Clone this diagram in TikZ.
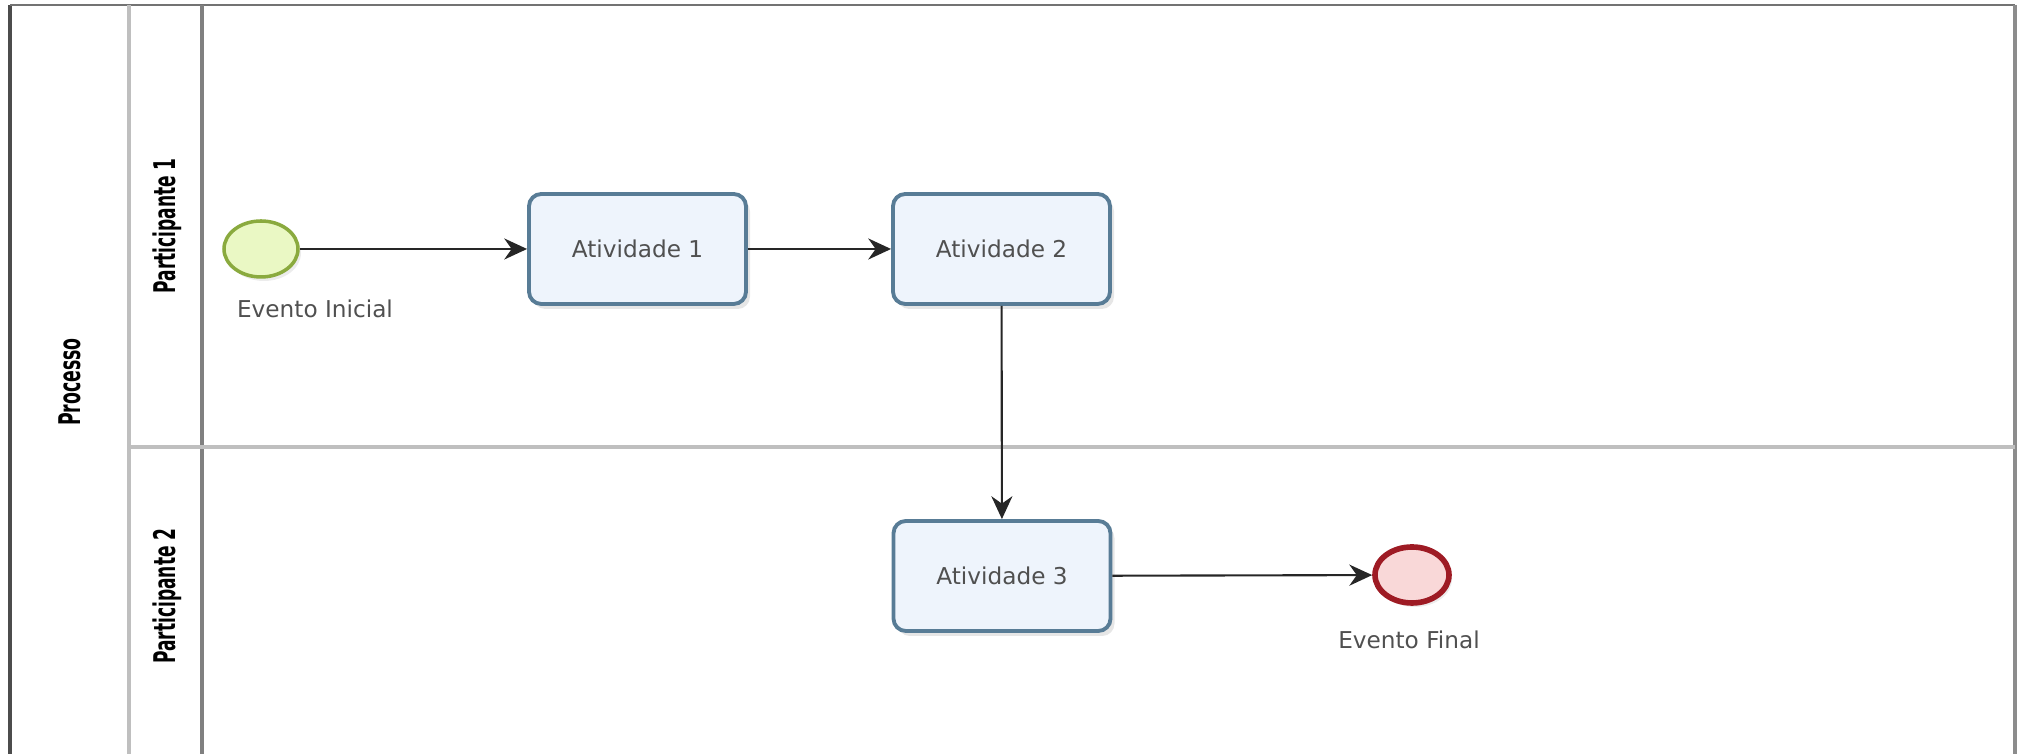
\documentclass[tikz,border=0pt]{standalone}
\usepackage{fontspec}
\setmainfont{DejaVu Sans}
\usepackage{xcolor}
\usepackage{tikz}
\usetikzlibrary{arrows.meta}
\usetikzlibrary{shapes,shadows}
\usetikzlibrary{positioning}

\definecolor{atvborda}{HTML}{587C96}
\definecolor{atvfundo}{HTML}{EEF4FC}
\definecolor{iniborda}{HTML}{8AAA3E}
\definecolor{inifundo}{HTML}{EAF8C4}
\definecolor{fimborda}{HTML}{9E1B24}
\definecolor{fimfundo}{HTML}{F9D8D8}
\definecolor{texto}{HTML}{505050}

\begin{document}
\begin{tikzpicture}[
    atividade/.style={draw=atvborda, fill=atvfundo, line width=1.1pt, rounded corners=3.5pt,
        minimum width=2.17cm, minimum height=1.1cm, text=texto, font=\fontsize{6.6}{8}\selectfont,
        drop shadow={shadow xshift=0.04cm, shadow yshift=-0.05cm, opacity=0.2}},
    evento/.style={draw, ellipse, inner sep=0pt, minimum width=0.74cm, minimum height=0.56cm},
    rotulo/.style={text=texto, font=\fontsize{6.6}{8}\selectfont, inner sep=1pt},
    raia/.style={rotate=90, font=\fontsize{8.5}{9}\selectfont\bfseries, inner sep=1pt},
    fluxo/.style={draw=black!85, line width=0.6pt, -{Stealth[length=6.5pt, width=6pt]}}
  ]
  \useasboundingbox (0,0) rectangle (20.2,7.54);

  \draw[line width=0.9pt, black!70] (0.10,0) -- (0.10,7.49);
  \draw[line width=0.6pt, black!55] (0.10,7.49) -- (20.15,7.49);
  \draw[line width=0.9pt, black!45] (20.15,7.49) -- (20.15,0);
  \draw[line width=0.9pt, black!25] (1.29,0) -- (1.29,7.49);
  \draw[line width=0.9pt, black!50] (2.02,0) -- (2.02,7.49);
  \draw[line width=0.9pt, black!25] (1.29,3.07) -- (20.15,3.07);

  \draw (0.70,3.72) node[raia] (processo) {\scalebox{0.58}[1]{Processo}};
  \draw (1.67,5.28) node[raia] (part1) {\scalebox{0.57}[1]{Participante 1}};
  \draw (1.67,1.58) node[raia] (part2) {\scalebox{0.57}[1]{Participante 2}};

  \draw (2.61,5.05) node[evento, draw=iniborda, fill=inifundo, line width=1pt,
      drop shadow={shadow xshift=0.03cm, shadow yshift=-0.04cm, opacity=0.15}] (ini) {};
  \draw (6.375,5.05) node[atividade] (atv1) {Atividade 1};
  \draw (10.015,5.05) node[atividade] (atv2) {Atividade 2};
  \draw (10.02,1.78) node[atividade] (atv3) {Atividade 3};
  \draw (14.12,1.79) node[evento, draw=fimborda, fill=fimfundo, line width=1.6pt,
      drop shadow={shadow xshift=0.03cm, shadow yshift=-0.04cm, opacity=0.15}] (fim) {};

  \draw (3.15,4.45) node[rotulo] (lbini) {Evento Inicial};
  \draw (14.09,1.14) node[rotulo] (lbfim) {Evento Final};

  \draw[fluxo] (ini) -- (atv1);
  \draw[fluxo] (atv1) -- (atv2);
  \draw[fluxo] (atv2) -- (atv3);
  \draw[fluxo] (atv3) -- (fim);

\end{tikzpicture}
\end{document}
